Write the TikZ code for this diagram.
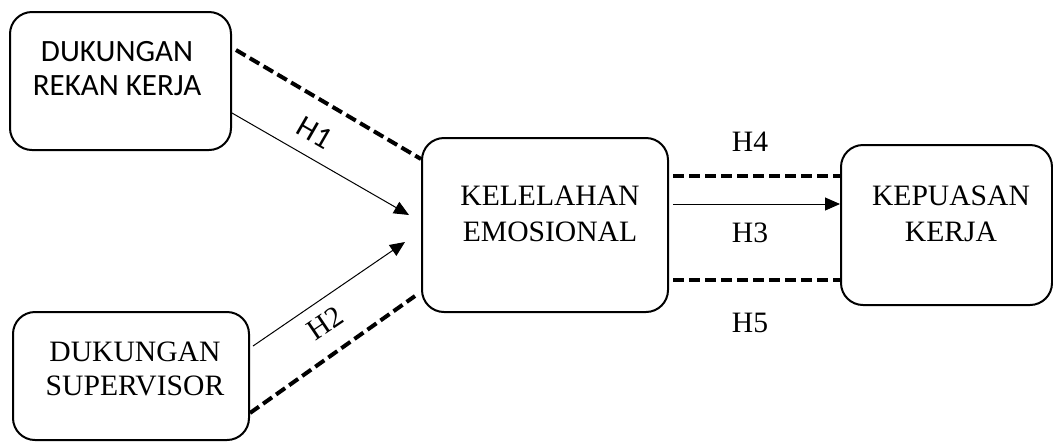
\documentclass[tikz,border=0pt]{standalone}
\usepackage{fontspec}
\setmainfont{Liberation Serif}
\newfontfamily\calfont{Carlito}
\usetikzlibrary{arrows.meta}

\tikzset{
  kotak/.style={draw,line width=1pt,rounded corners=11pt},
  putus/.style={line width=2pt,dash pattern=on 5.5pt off 2.5pt},
  panah/.style={line width=0.5pt,-{Triangle[length=7.5pt,width=6.5pt]}},
  teks/.style={align=center,font=\fontsize{14.8}{18}\selectfont},
  tekssans/.style={align=center,font=\calfont\fontsize{15.5}{17}\selectfont}
}

\begin{document}
\begin{tikzpicture}[x=0.5pt,y=-0.5pt]
\useasboundingbox (0,0) rectangle (1053,441);
% kotak
\node[kotak,minimum width=110.5pt,minimum height=69pt] (rekan) at (120.5,81) {};
\node[kotak,minimum width=118pt,minimum height=64pt] (super) at (131,376) {};
\node[kotak,minimum width=123pt,minimum height=87pt] (emo) at (545,225) {};
\node[kotak,minimum width=105.5pt,minimum height=80pt] (puas) at (946.5,225) {};
\node[tekssans] (trekan) at (117,69) {DUKUNGAN\\REKAN KERJA};
\node[teks,font=\fontsize{14.8}{17}\selectfont] (tsuper) at (135,368.5) {DUKUNGAN\\SUPERVISOR};
\node[teks] (temo) at (550,214) {KELELAHAN\\EMOSIONAL};
\node[teks] (tpuas) at (951,214) {KEPUASAN\\KERJA};
% garis
\draw[putus] ([xshift=2pt,yshift=15.5pt]rekan.east) -- ([yshift=33pt]emo.west);
\draw[panah] ([yshift=-16pt]rekan.east) -- ([xshift=-6pt,yshift=5pt]emo.west);
\draw[panah] ([xshift=1.5pt,yshift=15pt]super.east) -- ([xshift=-8pt,yshift=-8.5pt]emo.west);
\draw[putus] ([yshift=-18.5pt]super.east) -- ([xshift=-3pt,yshift=-35.5pt]emo.west);
\foreach \dy/\gaya in {24.5/putus,10.5/panah,-27.5/putus}
  \draw[\gaya] ([xshift=2pt,yshift=\dy pt]emo.east) -- ([yshift=\dy pt]puas.west);
% label
\node[tekssans,rotate=-30,inner sep=1pt] (h1) at (315,133) {H1};
\node[teks,rotate=34,inner sep=1pt] (h2) at (325,323) {H2};
\node[teks] (h4) at (750,142) {H4};
\node[teks] (h3) at (750,233) {H3};
\node[teks] (h5) at (750,323) {H5};
\end{tikzpicture}
\end{document}
